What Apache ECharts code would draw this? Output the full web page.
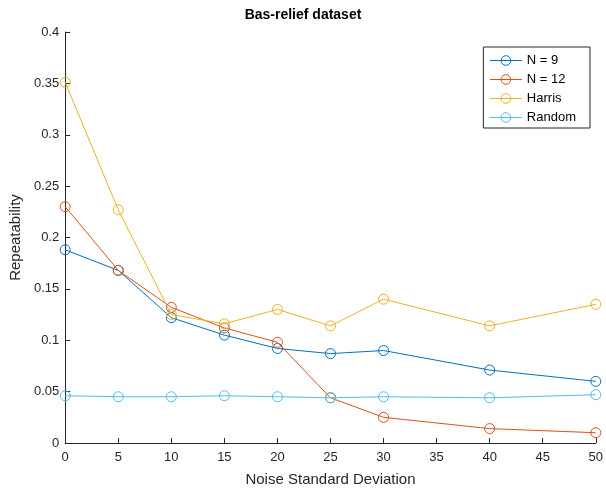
<!DOCTYPE html>
<html><head><meta charset="utf-8">
<script src="https://cdn.jsdelivr.net/npm/echarts@6/dist/echarts.min.js"></script>
<style>html,body{margin:0;padding:0;background:#fff}#c{width:606px;height:497px}</style>
</head><body><div id="c"></div>
<script>
const noise = [0, 5, 10, 15, 20, 25, 30, 40, 50];
const n9 = [0.188, 0.168, 0.122, 0.105, 0.092, 0.087, 0.090, 0.071, 0.060];
const n12 = [0.230, 0.168, 0.132, 0.112, 0.098, 0.044, 0.025, 0.014, 0.010];
const harris = [0.351, 0.227, 0.125, 0.116, 0.130, 0.114, 0.140, 0.114, 0.135];
const random = [0.046, 0.045, 0.045, 0.046, 0.045, 0.044, 0.045, 0.044, 0.047];
const names = ['N = 9', 'N = 12', 'Harris', 'Random'];
const colors = ['#0072BD', '#D95319', '#EDB120', '#4DBEEE'];
const seriesVals = [n9, n12, harris, random];

const font = 'Liberation Sans, Arial, sans-serif';
const chart = echarts.init(document.getElementById('c'));
chart.setOption({
  animation: false,
  backgroundColor: '#fff',
  title: {
    text: 'Bas-relief dataset', left: 'center', top: 3,
    textStyle: { fontFamily: font, fontSize: 14, fontWeight: 'bold', color: '#000' }
  },
  legend: {
    orient: 'vertical', right: 16, top: 47,
    data: names,
    backgroundColor: '#fff', borderColor: '#262626', borderWidth: 1,
    padding: [7, 14, 4, 6], itemGap: 6, itemWidth: 32, itemHeight: 12,
    textStyle: { fontFamily: font, fontSize: 13, color: '#000' },
    itemStyle: { borderWidth: 1 },
    lineStyle: { width: 1 }
  },
  grid: { left: 65, right: 10, top: 32, bottom: 54 },
  xAxis: {
    type: 'value', min: 0, max: 50, interval: 5,
    name: 'Noise Standard Deviation', nameLocation: 'middle', nameGap: 29,
    nameTextStyle: { fontFamily: font, fontSize: 15, color: '#262626' },
    axisLine: { lineStyle: { color: '#262626' } },
    axisTick: { inside: true, length: 5, lineStyle: { color: '#262626' } },
    axisLabel: { fontFamily: font, fontSize: 13, color: '#262626', margin: 8 },
    splitLine: { show: false }
  },
  yAxis: {
    type: 'value', min: 0, max: 0.4, interval: 0.05,
    name: 'Repeatability', nameLocation: 'middle', nameGap: 35,
    nameTextStyle: { fontFamily: font, fontSize: 15, color: '#262626' },
    axisLine: { show: true, lineStyle: { color: '#262626' } },
    axisTick: { show: true, inside: true, length: 5, lineStyle: { color: '#262626' } },
    axisLabel: { fontFamily: font, fontSize: 13, color: '#262626', margin: 6 },
    splitLine: { show: false }
  },
  series: names.map((n, i) => ({
    name: n, type: 'line',
    data: noise.map((x, j) => [x, seriesVals[i][j]]),
    color: colors[i],
    symbol: 'circle', symbolSize: 10,
    lineStyle: { width: 1, color: colors[i] },
    itemStyle: { color: 'rgba(255,255,255,0)', borderColor: colors[i], borderWidth: 1 },
    z: 2 + i
  }))
});
</script></body></html>
